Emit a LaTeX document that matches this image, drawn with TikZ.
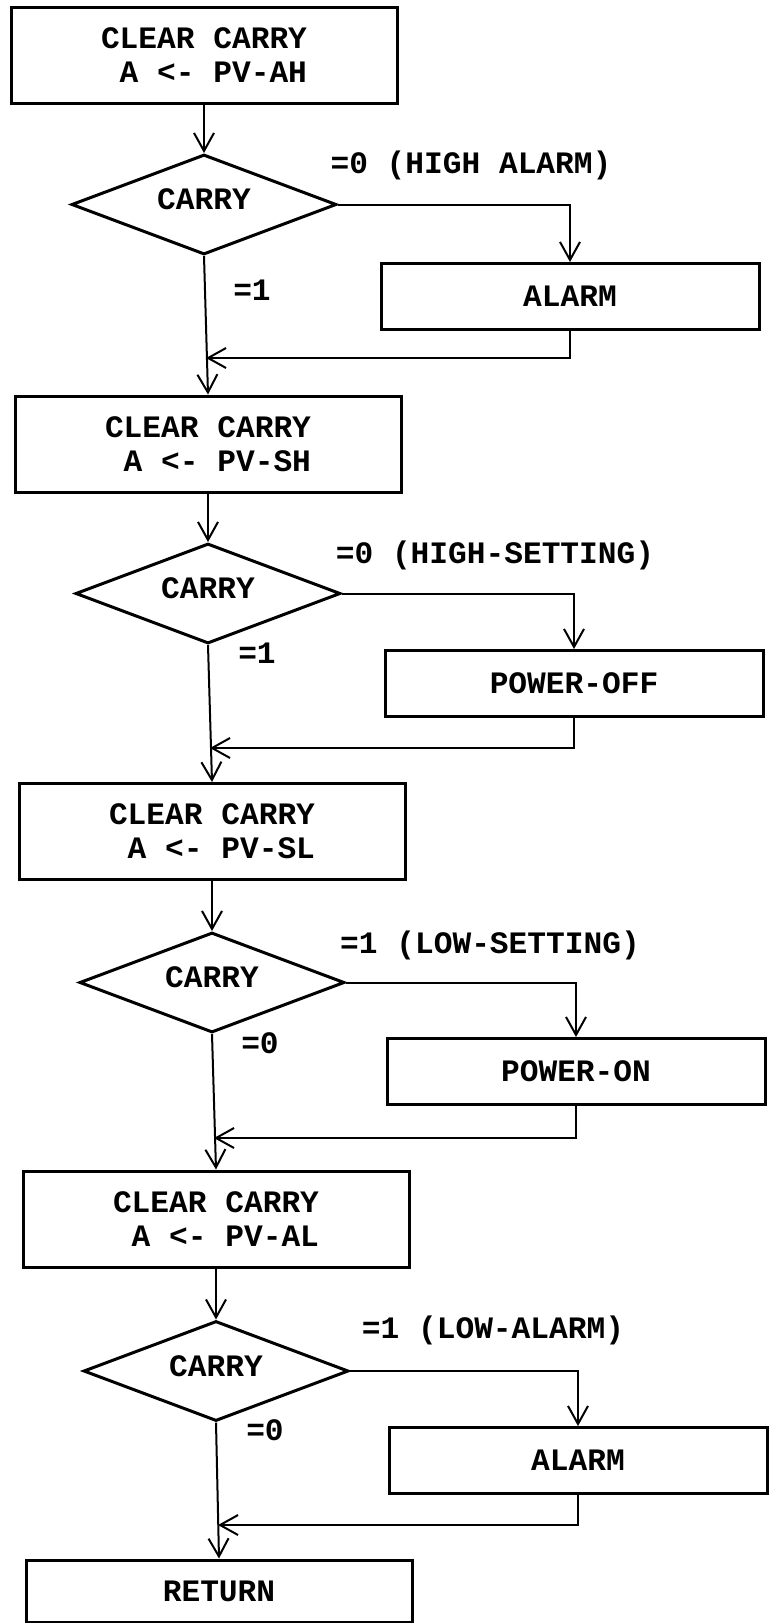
\documentclass[tikz,border=0pt]{standalone}
\usepackage{fontspec}
\setmonofont{Liberation Mono}
\usetikzlibrary{arrows.meta, shapes.geometric}

\begin{document}
\begin{tikzpicture}[
    x=0.5pt, y=-0.5pt,
    >={Straight Barb[length=9pt,width=10pt]},
    font=\ttfamily\bfseries\fontsize{15.6}{17}\selectfont,
    box/.style={
        draw=black, line width=1.5pt, align=right, inner sep=0pt,
        minimum width=193pt, minimum height=48pt
    },
    side/.style={
        draw=black, line width=1.5pt, inner sep=0pt,
        minimum width=189pt, minimum height=33pt
    },
    test/.style={
        diamond, draw=black, line width=1.5pt, shape aspect=2.6,
        inner sep=0pt, text depth=5pt,
        minimum width=132.5pt, minimum height=50pt
    },
    lbl/.style={inner sep=0pt},
    arr/.style={->, draw=black, line width=1pt},
]
\useasboundingbox (0,0) rectangle (768,1623);
% ---------- high alarm ----------
\node[box]  (clr1)   at (204,55)    {CLEAR CARRY\\A <- PV-AH};
\node[test] (c1)     at (204,204.5) {CARRY};
\node[side] (alarm1) at (570,296.5) {ALARM};
\node[lbl]  (l1a)    at (471,165)   {=0 (HIGH ALARM)};
\node[lbl]  (l1b)    at (252,290)   {=1};
\coordinate (m1) at (206,358);
% ---------- high setting ----------
\node[box]  (clr2)   at (208,444)   {CLEAR CARRY\\A <- PV-SH};
\node[test] (c2)     at (208,593.5) {CARRY};
\node[side] (poff)   at (574,683.5) {POWER-OFF};
\node[lbl]  (l2a)    at (495,555)   {=0 (HIGH-SETTING)};
\node[lbl]  (l2b)    at (257,653)   {=1};
\coordinate (m2) at (210,748);
% ---------- low setting ----------
\node[box]  (clr3)   at (212,831.5) {CLEAR CARRY\\A <- PV-SL};
\node[test] (c3)     at (212,982.5) {CARRY};
\node[side] (pon)    at (576,1071.5) {POWER-ON};
\node[lbl]  (l3a)    at (490,945)   {=1 (LOW-SETTING)};
\node[lbl]  (l3b)    at (260,1043)  {=0};
\coordinate (m3) at (214,1138);
% ---------- low alarm ----------
\node[box]  (clr4)   at (216,1219)  {CLEAR CARRY\\A <- PV-AL};
\node[test] (c4)     at (216,1371)  {CARRY};
\node[side] (alarm2) at (578,1460.5) {ALARM};
\node[lbl]  (l4a)    at (493,1330)  {=1 (LOW-ALARM)};
\node[lbl]  (l4b)    at (265,1430)  {=0};
\coordinate (m4) at (218,1525);
% ---------- exit ----------
\node[box, minimum height=31pt] (ret) at (219,1591) {RETURN};
% ===================== EDGES =====================
\draw[arr] (clr1) -- (c1);
\draw[arr] (c1.east) -| (alarm1.north);
\draw[arr] (alarm1.south) |- (m1);
\draw[arr] (c1.south) -- (clr2.north);
\draw[arr] (clr2) -- (c2);
\draw[arr] (c2.east) -| (poff.north);
\draw[arr] (poff.south) |- (m2);
\draw[arr] (c2.south) -- (clr3.north);
\draw[arr] (clr3) -- (c3);
\draw[arr] (c3.east) -| (pon.north);
\draw[arr] (pon.south) |- (m3);
\draw[arr] (c3.south) -- (clr4.north);
\draw[arr] (clr4) -- (c4);
\draw[arr] (c4.east) -| (alarm2.north);
\draw[arr] (alarm2.south) |- (m4);
\draw[arr] (c4.south) -- (ret.north);
\end{tikzpicture}
\end{document}
